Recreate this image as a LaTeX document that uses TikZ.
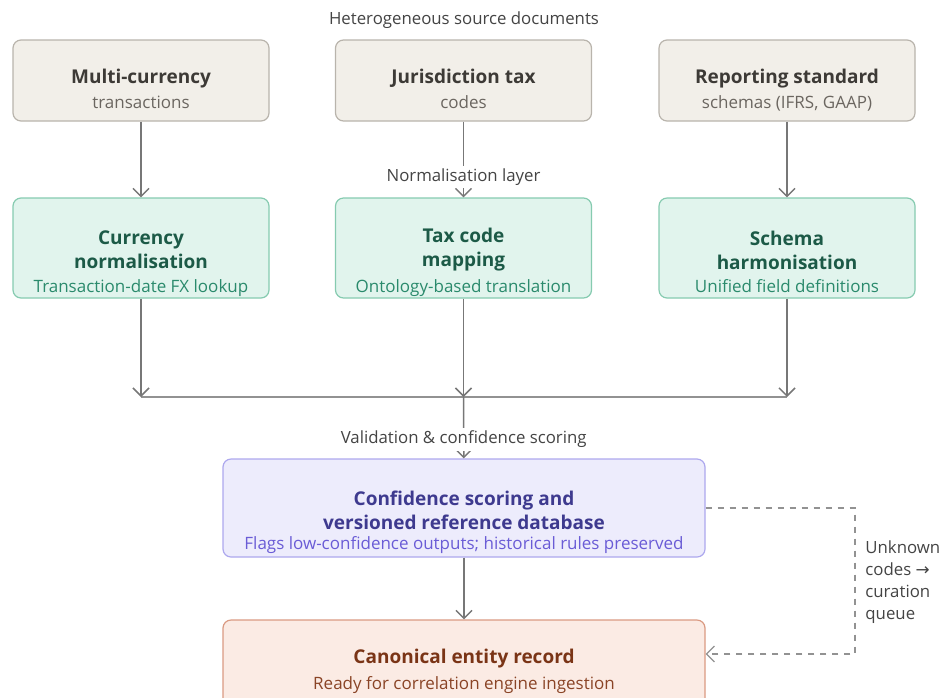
\documentclass[tikz,border=0pt]{standalone}
\usepackage{fontspec}
\setmainfont{Open Sans}
\newfontfamily\arrowfont{DejaVu Sans}
\usetikzlibrary{arrows.meta}
\definecolor{srcfill}{HTML}{F2EFE9}
\definecolor{srcline}{HTML}{B9B4AC}
\definecolor{srctext}{HTML}{3D3A36}
\definecolor{srcsub}{HTML}{6B6660}
\definecolor{nrmfill}{HTML}{E1F4ED}
\definecolor{nrmline}{HTML}{86CBB0}
\definecolor{nrmtext}{HTML}{1C5A47}
\definecolor{nrmsub}{HTML}{2A8A6C}
\definecolor{conffill}{HTML}{EDECFC}
\definecolor{confline}{HTML}{ADA8EE}
\definecolor{conftext}{HTML}{3E3A8F}
\definecolor{confsub}{HTML}{6A5CD6}
\definecolor{canfill}{HTML}{FBEBE4}
\definecolor{canline}{HTML}{DA9A82}
\definecolor{cantext}{HTML}{7A3416}
\definecolor{cansub}{HTML}{8A4426}
\definecolor{wire}{HTML}{777777}
\definecolor{lbltext}{HTML}{444444}

\begin{document}
\begin{tikzpicture}[x=0.5pt,y=-0.5pt,
    box/.style={rounded corners=4pt, line width=0.6pt, inner sep=0pt},
    srcbox/.style={box, draw=srcline, fill=srcfill, minimum width=128pt, minimum height=40.5pt},
    nrmbox/.style={box, draw=nrmline, fill=nrmfill, minimum width=128pt, minimum height=50pt},
    confbox/.style={box, draw=confline, fill=conffill, minimum width=241pt, minimum height=49pt},
    canbox/.style={box, draw=canline, fill=canfill, minimum width=241pt, minimum height=43pt},
    ttl/.style={font=\fontsize{9.5}{12}\selectfont\bfseries, align=center, inner sep=0pt},
    sub/.style={font=\fontsize{8.5}{10}\selectfont, inner sep=0pt, anchor=base},
    lbl/.style={font=\fontsize{8.4}{10}\selectfont, text=lbltext, fill=white, inner sep=1.5pt},
    arr/.style={draw=wire, line width=0.75pt, -{Straight Barb[length=4pt,width=8pt]}}]
    \useasboundingbox (0,0) rectangle (940,697);
    % heading
    \node[lbl, anchor=base] (head) at (464,24) {Heterogeneous source documents};
    % source documents
    \node[srcbox] (src1) at (141,80.5) {};
    \node[srcbox] (src2) at (463.5,80.5) {};
    \node[srcbox] (src3) at (787,80.5) {};
    \node[ttl, text=srctext, anchor=base] (t1) at (141,83) {Multi-currency};
    \node[ttl, text=srctext, anchor=base] (t2) at (463.5,83) {Jurisdiction tax};
    \node[ttl, text=srctext, anchor=base] (t3) at (787,83) {Reporting standard};
    \node[sub, text=srcsub] (s1) at (141,108) {transactions};
    \node[sub, text=srcsub] (s2) at (463.5,108) {codes};
    \node[sub, text=srcsub] (s3) at (787,108) {schemas (IFRS, GAAP)};
    % normalisation layer
    \node[nrmbox] (nrm1) at (141,248) {};
    \node[nrmbox] (nrm2) at (463.5,248) {};
    \node[nrmbox] (nrm3) at (787,248) {};
    \node[ttl, text=nrmtext] (n1) at (141,250) {Currency\\normalisation};
    \node[ttl, text=nrmtext] (n2) at (463.5,250) {Tax code\\mapping};
    \node[ttl, text=nrmtext] (n3) at (787,250) {Schema\\harmonisation};
    \node[sub, text=nrmsub] (m1) at (141,292) {Transaction-date FX lookup};
    \node[sub, text=nrmsub] (m2) at (463.5,292) {Ontology-based translation};
    \node[sub, text=nrmsub] (m3) at (787,292) {Unified field definitions};
    % arrows down
    \draw[arr] (src1) -- (nrm1);
    \draw[arr] (src2) -- node[lbl, pos=0.73] {Normalisation layer} (nrm2);
    \draw[arr] (src3) -- (nrm3);
    % merge
    \coordinate (j1) at (141,397);
    \coordinate (j2) at (463.5,397);
    \coordinate (j3) at (787,397);
    \draw[draw=wire!80, line width=0.75pt] (j1) -- (j3);
    \draw[arr] (nrm1) -- (j1);
    \draw[arr] (nrm2) -- (j2);
    \draw[arr] (nrm3) -- (j3);
    % scoring
    \node[confbox] (conf) at (464,508) {};
    \node[ttl, text=conftext] (c1) at (464,510) {Confidence scoring and\\versioned reference database};
    \node[sub, text=confsub] (c2) at (464,549) {Flags low-confidence outputs; historical rules preserved};
    \draw[arr] (j2) -- node[lbl, pos=0.69] {Validation \& confidence scoring} (conf);
    % canonical record
    \node[canbox] (can) at (464,663) {};
    \node[ttl, text=cantext, anchor=base] (r1) at (464,663) {Canonical entity record};
    \node[sub, text=cansub] (r2) at (464,689) {Ready for correlation engine ingestion};
    \draw[arr] (conf) -- (can);
    % curation loop
    \coordinate (d1) at (855,508);
    \coordinate (d2) at (855,654);
    \draw[arr, draw=wire!80, line width=0.6pt, dashed] (conf.east) -- (d1) -- (d2) -- (d2 -| can.east);
    \node[lbl, fill=none, align=left, anchor=west, font=\fontsize{8.4}{11}\selectfont] (loop) at (862,582)
        {Unknown\\codes {\arrowfont →}\\curation\\queue};
\end{tikzpicture}
\end{document}
